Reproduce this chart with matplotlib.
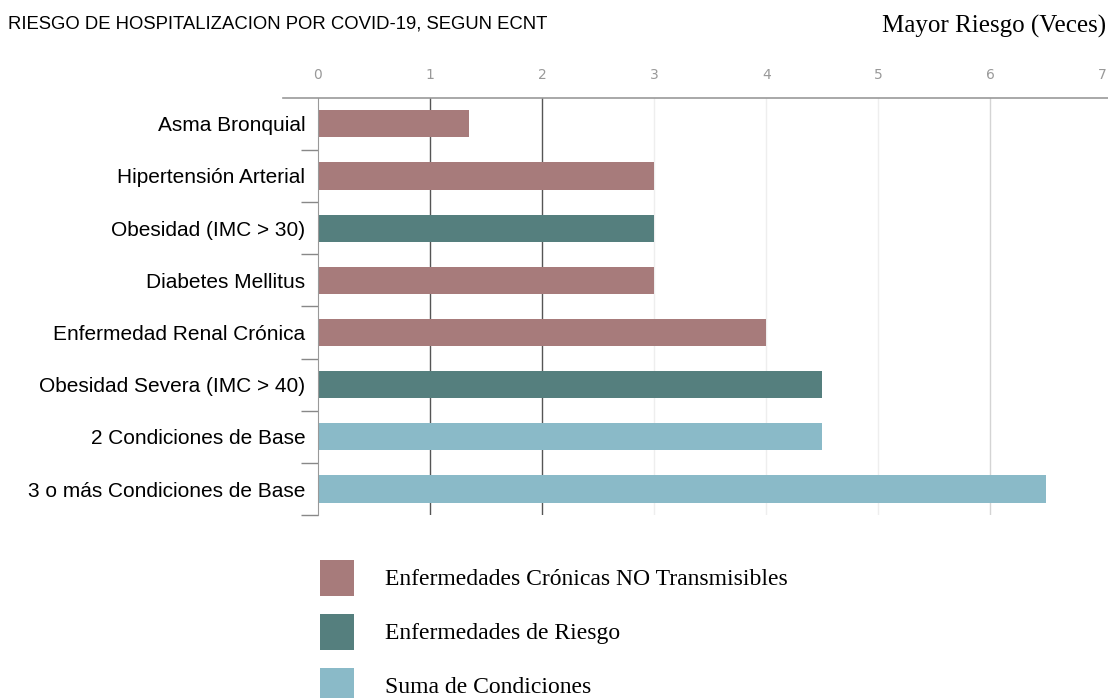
import matplotlib.pyplot as plt
from matplotlib.patches import Patch

categories = [
    'Asma Bronquial',
    'Hipertensión Arterial',
    'Obesidad (IMC > 30)',
    'Diabetes Mellitus',
    'Enfermedad Renal Crónica',
    'Obesidad Severa (IMC > 40)',
    '2 Condiciones de Base',
    '3 o más Condiciones de Base',
]
riesgo = [1.35, 3, 3, 3, 4, 4.5, 4.5, 6.5]
grupo = [0, 0, 1, 0, 0, 1, 2, 2]

grupos = ['Enfermedades Crónicas NO Transmisibles', 'Enfermedades de Riesgo', 'Suma de Condiciones']
colores = ['#a77b7b', '#557f7e', '#8abac8']
x_ticks = [0, 1, 2, 3, 4, 5, 6, 7]
# shade of each vertical grid line, one per x tick
grid_shades = ['#ffffff', '#555555', '#555555', '#eeeeee', '#eeeeee', '#eeeeee', '#d4d4d4', '#ffffff']

sans = ['Liberation Sans', 'DejaVu Sans']
serif = ['Liberation Serif', 'DejaVu Serif']

fig = plt.figure(figsize=(11.08, 6.98), dpi=100)
ax = fig.add_axes([0.287, 0.262, 0.708, 0.598])

pos = list(range(len(categories)))
ax.barh(pos, riesgo, height=0.52, color=[colores[g] for g in grupo], zorder=2)

ax.set_xlim(0, 7)
ax.set_ylim(len(categories) - 0.5, -0.5)
ax.set_xticks(x_ticks)
ax.xaxis.tick_top()
ax.tick_params(axis='x', length=0, pad=11, labelsize=10, labelcolor='#999999')

ax.set_yticks(pos)
ax.set_yticklabels(categories, fontsize=15, family=sans)
ax.set_yticks([p + 0.5 for p in pos], minor=True)
ax.tick_params(axis='y', which='major', length=0, pad=9)
ax.tick_params(axis='y', which='minor', length=12, color='#888888', width=1)

ax.grid(axis='x', zorder=0)
for line, shade in zip(ax.xaxis.get_gridlines(), grid_shades):
    line.set_color(shade)
    line.set_linewidth(1)

for side in ['right', 'bottom', 'top']:
    ax.spines[side].set_visible(False)
ax.spines['left'].set_color('#999999')
ax.plot([-0.045, 1.01], [1, 1], transform=ax.transAxes, color='#999999',
        lw=1.2, clip_on=False)

fig.text(0.007, 0.965, 'RIESGO DE HOSPITALIZACION POR COVID-19, SEGUN ECNT',
         fontsize=13.3, family=sans, va='center', ha='left')
fig.text(0.998, 0.962, 'Mayor Riesgo (Veces)', fontsize=18, family=serif,
         va='center', ha='right')

handles = [Patch(facecolor=c, edgecolor='none') for c in colores]
fig.legend(handles, grupos, loc='upper left', bbox_to_anchor=(0.2888, 0.198),
           frameon=False, prop={'family': serif, 'size': 17},
           borderpad=0, borderaxespad=0,
           handlelength=1.45, handleheight=1.97, labelspacing=0.76, handletextpad=1.3)

fig.savefig('out.png', dpi=100)
